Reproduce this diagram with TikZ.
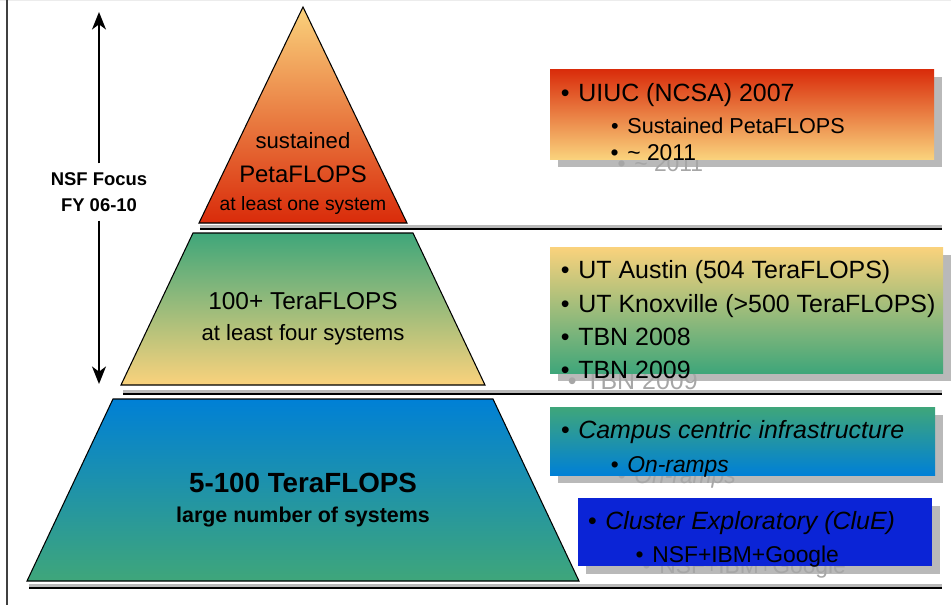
\documentclass[tikz,border=0pt]{standalone}
\usepackage{fontspec}
\setmainfont{Liberation Sans}
\usetikzlibrary{arrows.meta}

% tier colours
\definecolor{petared}{HTML}{D92B0A}
\definecolor{sandyellow}{HTML}{FAD27C}
\definecolor{seagreen}{HTML}{3FA67A}
\definecolor{oceanblue}{HTML}{0080D6}
\definecolor{cluefill}{HTML}{0B24D6}

% bullet hanging left of the item text
\newcommand{\bul}{\llap{\textbullet\hspace{5pt}}}

\tikzset{
  tier/.style={draw=black, line width=0.6pt},
  tierrule/.style={black, line width=1.1pt},
  tiershade/.style={gray!55, line width=2.6pt},
  tiertext/.style={inner sep=0pt, anchor=base},
  item/.style={inner sep=0pt, anchor=base west, font=\fontsize{14.2}{16}\selectfont},
  subitem/.style={item, font=\fontsize{13}{15}\selectfont},
  smallitem/.style={item, font=\fontsize{12.3}{15}\selectfont},
  itemit/.style={item, font=\fontsize{14.2}{16}\selectfont\itshape},
  subitemit/.style={item, font=\fontsize{13}{15}\selectfont\itshape},
  ghost/.style={text=gray!70},
  boxshadow/.style={fill=gray!55},
  focusarrow/.style={line width=1.1pt, -{Stealth[length=10pt, width=8pt, inset=3pt]}}
}

\begin{document}
\begin{tikzpicture}[x=0.02cm, y=-0.02cm]
  \useasboundingbox (0,0) rectangle (951,605);

  % frame edges
  \draw[gray!15, line width=0.6pt] (0,0.5) -- (951,0.5);
  \draw[black!75, line width=1.1pt] (7,0) -- (7,605);

  % Top tier
  \shadedraw[tier, top color=sandyellow, bottom color=petared]
    (303,7) -- (407,223) -- (199,223) -- cycle;
  \node[tiertext, font=\fontsize{12.6}{14}\selectfont] (top1) at (303,148) {sustained};
  \node[tiertext, font=\fontsize{13.6}{15}\selectfont] (top2) at (303,182) {PetaFLOPS};
  \node[tiertext, font=\fontsize{11}{13}\selectfont] (top3) at (303,210) {at least one system};
  \draw[tiershade] (200,227) -- (942,227);
  \draw[tierrule] (200,229) -- (942,229);

  % Middle tier
  \shadedraw[tier, top color=seagreen, bottom color=sandyellow]
    (193,233) -- (413,233) -- (485,385) -- (121,385) -- cycle;
  \node[tiertext, font=\fontsize{13.9}{15}\selectfont] (mid1) at (303,309) {100+ TeraFLOPS};
  \node[tiertext, font=\fontsize{12.6}{14}\selectfont] (mid2) at (303,340) {at least four systems};
  \draw[tiershade] (123,392) -- (942,392);
  \draw[tierrule] (123,394) -- (942,394);

  % Bottom tier
  \shadedraw[tier, top color=oceanblue, bottom color=seagreen]
    (113,399) -- (493,399) -- (579,581) -- (27,581) -- cycle;
  \node[tiertext, font=\bfseries\fontsize{15.8}{17}\selectfont] (low1) at (303,492) {5-100 TeraFLOPS};
  \node[tiertext, font=\bfseries\fontsize{12.2}{14}\selectfont] (low2) at (303,522) {large number of systems};
  \draw[tiershade] (29,586) -- (942,586);
  \draw[tierrule] (29,588) -- (942,588);

  % NSF focus span
  \node[align=center, inner sep=5pt, font=\bfseries\fontsize{10.5}{14.7}\selectfont] (focus) at (99,192)
    {NSF Focus\\FY 06-10};
  \coordinate (ftop) at (99,12);
  \coordinate (fbot) at (99,384);
  \draw[focusarrow] (focus.north) -- (ftop);
  \draw[focusarrow] (focus.south) -- (fbot);

  % item lists
  \def\uiuclines{item/578/101/{\bul UIUC (NCSA) 2007},
    smallitem/627/133/{\bul Sustained PetaFLOPS},
    subitem/627/160/{\bul \textasciitilde{} 2011}}
  \def\utlines{item/578/278/{\bul UT Austin (504 TeraFLOPS)},
    item/578/312/{\bul UT Knoxville (>500 TeraFLOPS)},
    item/578/345/{\bul TBN 2008},
    item/578/378/{\bul TBN 2009}}
  \def\campuslines{itemit/578/438/{\bul Campus centric infrastructure},
    subitemit/627/472/{\bul On-ramps}}
  \def\cluelines{itemit/605/529/{\bul Cluster Exploratory (CluE)},
    subitem/652/562/{\bul NSF+IBM+Google}}

  % UIUC box (shadow, then box)
  \fill[boxshadow] (558,77) rectangle (942,167);
  \node[subitem, ghost] (uiucg) at (634,171) {\bul \textasciitilde{} 2011};
  \shade[top color=petared, bottom color=sandyellow] (550,69) rectangle (934,159);
  \foreach \s/\x/\y/\t [count=\i] in \uiuclines
    \node[\s] (uiuc\i) at (\x,\y) {\t};

  % UT box
  \fill[boxshadow] (558,255) rectangle (951,381);
  \node[item, ghost] (utg) at (585,389) {\bul TBN 2009};
  \shade[top color=sandyellow, bottom color=seagreen] (550,247) rectangle (943,373);
  \foreach \s/\x/\y/\t [count=\i] in \utlines
    \node[\s] (ut\i) at (\x,\y) {\t};

  % campus box
  \fill[boxshadow] (558,415) rectangle (943,483);
  \node[subitemit, ghost] (campusg) at (634,483) {\bul On-ramps};
  \shade[top color=seagreen, bottom color=oceanblue] (550,407) rectangle (935,475);
  \foreach \s/\x/\y/\t [count=\i] in \campuslines
    \node[\s] (campus\i) at (\x,\y) {\t};

  % CluE box
  \fill[boxshadow] (586,506) rectangle (940,574);
  \node[subitem, ghost] (clueg) at (659,573) {\bul NSF+IBM+Google};
  \fill[cluefill] (578,498) rectangle (932,566);
  \foreach \s/\x/\y/\t [count=\i] in \cluelines
    \node[\s] (clue\i) at (\x,\y) {\t};
\end{tikzpicture}
\end{document}
